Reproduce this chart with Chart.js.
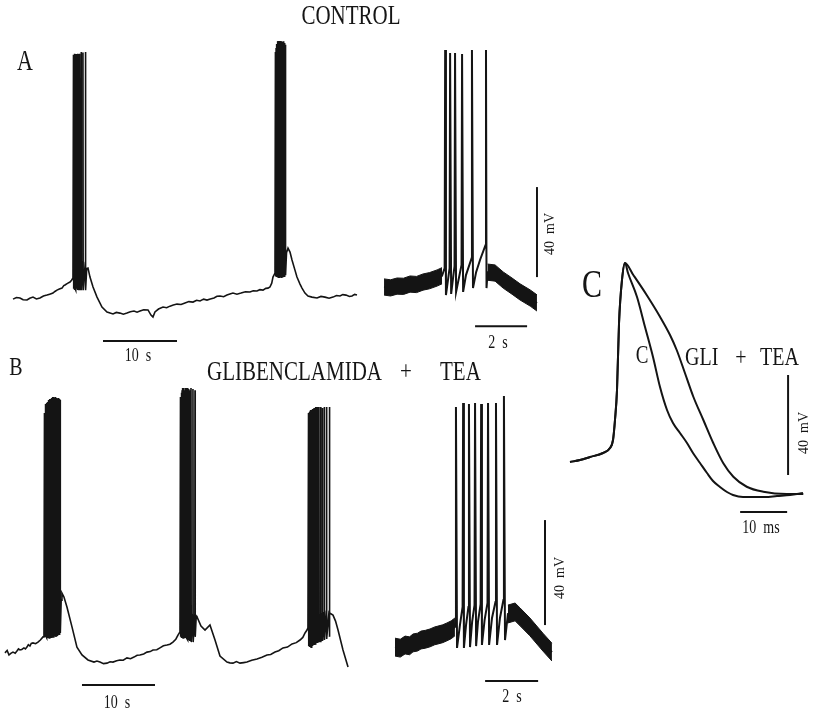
<!DOCTYPE html>
<html>
<head>
<meta charset="utf-8">
<script src="https://cdn.jsdelivr.net/npm/chart.js@4.4.1/dist/chart.umd.min.js"></script>
<style>
  body { margin: 0; background: #fff; }
  #fig { position: relative; width: 819px; height: 715px; overflow: hidden;
         font-family: "Liberation Serif", "Times New Roman", serif; color: #151515; }
  #fig canvas { position: absolute; }
  .lbl { position: absolute; white-space: pre; line-height: 1; transform: translate(-50%, -50%) scaleY(1.3); }
  .lft { position: absolute; white-space: pre; line-height: 1; transform: translate(0, -50%) scaleY(1.3); }
  .rot { position: absolute; white-space: pre; line-height: 1; transform: translate(-50%, -50%) rotate(-90deg); }
</style>
</head>
<body>
<div id="fig">
  <canvas id="aSlow" width="370" height="320" style="left:0;top:30px"></canvas>
  <canvas id="aFast" width="200" height="320" style="left:370px;top:30px"></canvas>
  <canvas id="bSlow" width="370" height="330" style="left:0;top:370px"></canvas>
  <canvas id="bFast" width="200" height="330" style="left:380px;top:370px"></canvas>
  <canvas id="cAp" width="259" height="300" style="left:560px;top:240px"></canvas>

  <div class="lbl" style="left:351px;top:16px;font-size:21px">CONTROL</div>
  <div class="lbl" style="left:25px;top:61px;font-size:22px">A</div>
  <div class="lbl" style="left:16px;top:366px;font-size:20px">B</div>
  <div class="lft" style="left:207px;top:372px;font-size:21px">GLIBENCLAMIDA</div>
  <div class="lbl" style="left:406px;top:372px;font-size:21px">+</div>
  <div class="lft" style="left:440px;top:372px;font-size:21px">TEA</div>

  <div class="lbl" style="left:138px;top:356px;font-size:14px">10  s</div>
  <div class="lbl" style="left:498px;top:343px;font-size:14px">2  s</div>
  <div class="rot" style="left:550px;top:234px;font-size:14px">40  mV</div>
  <div class="lbl" style="left:117px;top:703px;font-size:14px">10  s</div>
  <div class="lbl" style="left:512px;top:697px;font-size:14px">2  s</div>
  <div class="rot" style="left:560px;top:578px;font-size:14px">40  mV</div>

  <div class="lbl" style="left:592px;top:284px;font-size:30px">C</div>
  <div class="lbl" style="left:642px;top:355px;font-size:19px">C</div>
  <div class="lft" style="left:685px;top:356px;font-size:20px">GLI</div>
  <div class="lbl" style="left:741px;top:356px;font-size:20px">+</div>
  <div class="lft" style="left:760px;top:356px;font-size:20px">TEA</div>
  <div class="rot" style="left:804px;top:433px;font-size:14px">40  mV</div>
  <div class="lbl" style="left:761px;top:528px;font-size:14px">10  ms</div>
</div>

<script>
// ---- A: control, slow sweep (s, mV) ----
const aSlowBase = [
  [0.14,-64.6],[0.6,-63.9],[1.08,-64.1],[1.5,-64.9],[2.03,-65],[2.4,-64.2],[2.84,-63.7],[3.3,-64.5],
  [3.78,-64.1],[4.25,-63.2],[4.73,-62.8],[5.1,-62.4],[5.54,-61.9],[5.8,-61.2],[6.08,-60.6],[6.4,-60.1],
  [6.76,-59.7],[7.0,-58.6],[7.16,-58.3],[7.5,-57.6],[7.84,-57],[8.05,-56.2],[8.24,-55.2],
  [8.34,-60],[8.39,-50],[8.44,-60.5],[8.49,-50],[8.54,-60],[8.59,-49.5],[8.64,-60.6],[8.68,-49.5],
  [8.73,-60],[8.78,-49],[8.83,-60.5],[8.87,-49],[8.92,-60],[8.97,-48.5],[9.02,-60.6],[9.06,-48.5],
  [9.11,-60],[9.17,-48],[9.22,-60.6],[9.33,-48],[9.38,-60.6],[9.57,-48],[9.62,-60.6],[9.91,-48],
  [9.96,-60.6],[10.1,-51],
  [10.27,-50.8],[10.54,-54.8],[10.95,-59.2],[11.49,-63.7],[12.16,-68.1],[12.84,-70.3],[13.65,-71.2],
  [14.1,-70.5],[14.59,-70.8],[15.05,-71.3],[15.54,-70.8],[16.0,-70.2],[16.49,-69.9],[16.9,-70.4],
  [17.3,-69.9],[17.8,-69.3],[18.38,-69.4],[18.78,-71.7],[19.05,-72.6],[19.32,-70.3],[19.8,-69],
  [20.41,-68.1],[20.9,-68.4],[21.35,-67.7],[21.8,-67.2],[22.3,-66.8],[22.85,-67],[23.38,-66.3],
  [23.9,-65.7],[24.46,-65.9],[24.95,-65.1],[25.41,-65.4],[25.9,-64.6],[26.35,-65],[26.8,-64.5],
  [27.3,-64.1],[27.7,-63.3],[28.11,-63.2],[28.6,-63.5],[29.05,-62.8],[29.45,-62.3],[29.86,-61.9],
  [30.4,-62.4],[30.95,-61.9],[31.55,-61.3],[32.16,-61.4],[32.6,-60.9],[33.1,-61],[33.5,-60.4],
  [33.92,-60.6],[34.3,-59.8],[34.6,-59.7],[34.86,-59.2],[35.1,-57.5],[35.27,-54.8],[35.54,-53],
  [35.63,-54.5],[35.67,-45],[35.72,-54.8],[35.76,-44.5],[35.81,-54.8],[35.85,-44.5],[35.9,-55],
  [35.94,-44],[35.99,-55],[36.03,-44],[36.08,-55.2],[36.12,-43.5],[36.17,-55.2],[36.21,-43.5],
  [36.26,-55],[36.3,-43.5],[36.35,-55],[36.39,-43],[36.44,-55.2],[36.48,-43],[36.53,-55],[36.57,-43],
  [36.62,-55],[36.66,-42.5],[36.71,-54.8],[36.75,-42.5],[36.8,-54.8],[36.84,-42.5],[36.89,-54.5],
  [36.93,-42.5],[36.98,-54],[37.1,-44],
  [37.3,-41.9],[37.57,-43.7],[37.84,-47.2],[38.24,-51.7],[38.51,-54.8],[38.92,-57.9],[39.19,-59.7],
  [39.59,-61.9],[40,-63.2],[40.54,-63.7],[41.22,-64.1],[41.75,-63.4],[42.3,-63.7],[42.85,-64.2],
  [43.38,-63.7],[43.85,-63],[44.32,-63.2],[44.7,-62.6],[45.14,-62.8],[45.6,-63.4],[45.95,-63.2],
  [46.3,-62.5],[46.62,-62.8]
];
const aSlowSpikeT = [8.31,8.41,8.51,8.61,8.70,8.80,8.89,8.99,9.08,9.19,9.35,9.59,9.93,
  35.6,35.69,35.78,35.87,35.96,36.05,36.14,36.23,36.32,36.41,36.5,36.59,36.68,36.77,36.86,36.95];
const aSlowSpikeV = [44,44.3,44.5,44.3,44.1,44.3,44.5,44.3,44.2,44.5,45.2,45,45.2,
  45.2,47,48.8,50,50.1,49.8,50,50.1,49.6,50,49.4,49.8,50,49.2,48.8,48.4];

// ---- A: control, fast sweep ----
const aFastRest = [[0,-59.2],[0.25,-59.6],[0.5,-58.8],[0.75,-58.9],[1.0,-57.9],[1.25,-58.1],
  [1.5,-57],[1.75,-56.4],[2.04,-55.2],[2.23,-54.2]];
const aFastBurst = [[2.33,-50.8],[2.38,-62.8],[2.52,-50.8],[2.58,-62.3],[2.71,-49.9],[2.77,-61.4],
  [2.98,-49.4],[3.04,-61.4],[3.15,-53.9],[3.37,-46.3],[3.42,-59.7],[3.54,-52.6],[3.69,-47.2],
  [3.9,-40.6],[3.94,-59.7]];
const aFastAfter = [[3.98,-52.6],[4.27,-53],[4.58,-56.1],[4.92,-58.8],[5.23,-61.4],[5.62,-64.1],[5.88,-66.3]];
const aFastSpikeT = [2.35,2.54,2.73,3.0,3.38,3.92];
const aFastSpikeV = [46.1,44.8,44.8,44.3,46.1,46.1];
const aFastNoise = 3.6;   // half-width of the baseline noise band, mV

// ---- B: glibenclamida + TEA, slow sweep ----
const bSlowBase = [
  [0,-66.1],[0.3,-65.2],[0.55,-66.9],[0.8,-66.3],[1.1,-65.8],[1.4,-66.2],[1.64,-65.4],[1.85,-64.6],
  [2.05,-65],[2.3,-64.8],[2.6,-64.2],[2.8,-64.6],[3.01,-63.9],[3.2,-63],[3.42,-63.5],[3.6,-62.5],
  [3.84,-62.3],[4.2,-62.6],[4.52,-62],[4.85,-61.2],[5.21,-60],[5.34,-59.7],
  [5.44,-59.7],[5.49,-51],[5.54,-60],[5.59,-50.5],[5.64,-60],[5.69,-50.5],[5.74,-60.4],[5.8,-50],
  [5.85,-60.4],[5.9,-50],[5.95,-60.4],[6.01,-49.5],[6.06,-60.4],[6.11,-49.5],[6.16,-60.4],[6.22,-49],
  [6.27,-60.4],[6.33,-49],[6.38,-60.4],[6.44,-48.5],[6.49,-60],[6.55,-48.5],[6.6,-60],[6.66,-48],
  [6.71,-60],[6.77,-48],[6.82,-60],[6.89,-47.5],[6.94,-60],[7.01,-47.5],[7.06,-60],[7.13,-47],
  [7.18,-59.7],[7.26,-47],[7.31,-59.3],[7.39,-46.5],[7.44,-59.3],[7.53,-46],[7.58,-58.5],[7.7,-46],
  [7.81,-43.3],[8.08,-44.8],[8.49,-48.6],[9.18,-56.2],[9.86,-63.9],[10.55,-66.9],[11.37,-68.8],
  [12.19,-69.6],[12.6,-69.2],[13.01,-69.6],[13.5,-70.2],[13.97,-70],[14.4,-69.5],[14.79,-69.6],
  [15.3,-69.1],[15.75,-68.8],[16.2,-68.9],[16.71,-68],[17.2,-68.3],[17.67,-67.7],[18.1,-67],
  [18.49,-66.9],[19,-66.5],[19.45,-65.8],[19.9,-65.6],[20.27,-65],[20.8,-64.9],[21.23,-64.2],
  [21.7,-63.4],[22.19,-63.1],[22.6,-62.8],[23.01,-62],[23.4,-60.9],[23.7,-59.3],[23.97,-58.1],
  [24.07,-60],[24.13,-53],[24.18,-60.4],[24.24,-52.5],[24.29,-60.4],[24.35,-52.4],[24.4,-60.4],
  [24.46,-52],[24.51,-60.4],[24.57,-52],[24.62,-60.4],[24.68,-51.5],[24.73,-60.4],[24.79,-51.5],
  [24.84,-60.8],[24.9,-51],[24.95,-60.8],[25.01,-51],[25.06,-61.2],[25.13,-51],[25.18,-61.2],
  [25.27,-51.5],[25.32,-61.6],[25.46,-51.5],[25.51,-62],[25.73,-51.5],[25.78,-62],[26.01,-51],
  [26.06,-60],[26.2,-52],
  [26.3,-52.4],[26.85,-55.9],[27.4,-57.4],[28.08,-55.5],[28.77,-61.2],[29.45,-67.3],[30.41,-69.6],
  [30.8,-69.9],[31.23,-70],[31.7,-69.4],[32.19,-70],[32.7,-69.8],[33.15,-69.6],[33.8,-68.9],
  [34.52,-68.4],[35.2,-67.8],[35.89,-66.9],[36.4,-66.7],[36.99,-65.8],[37.5,-65.3],[38.08,-64.2],
  [38.7,-63.9],[39.32,-62.7],[39.9,-62.2],[40.41,-61.2],[40.8,-60.2],[41.1,-58.5],[41.37,-57.4],
  [41.5,-56.5],
  [41.61,-63.5],[41.66,-55],[41.71,-63.9],[41.77,-55],[41.82,-63.9],[41.88,-54.5],[41.93,-63.9],
  [41.99,-54.5],[42.04,-63.5],[42.1,-54],[42.15,-63.5],[42.21,-54],[42.26,-63.1],[42.32,-53.5],
  [42.37,-63.1],[42.43,-53.5],[42.48,-62.7],[42.54,-53],[42.59,-62.7],[42.66,-53],[42.71,-62.3],
  [42.8,-52.5],[42.85,-62.3],[42.99,-52],[43.04,-62],[43.23,-51.5],[43.28,-62],[43.46,-51],
  [43.51,-61.6],[43.72,-50.5],[43.77,-61.2],[44.03,-50],[44.08,-60.8],[44.4,-50],[44.45,-60],
  [44.52,-50.9],[44.93,-51.7],[45.28,-54],[45.62,-57.4],[46.3,-65],[46.99,-71.5]
];
const bSlowSpikeT = [
  5.41,5.51,5.61,5.71,5.82,5.92,6.03,6.13,6.24,6.35,6.46,6.57,6.68,6.79,6.91,7.03,7.15,7.28,7.41,7.55,
  24.04,24.15,24.26,24.37,24.48,24.59,24.7,24.81,24.92,25.03,25.15,25.29,25.48,25.75,26.03,
  41.58,41.68,41.79,41.9,42.01,42.12,42.23,42.34,42.45,42.56,42.68,42.82,43.01,43.25,43.48,43.74,44.05,44.42];
const bSlowSpikeV = [
  25.3,27.6,28.7,29.1,29.5,30.2,30.2,30.6,30.6,31,31,31.4,31.4,31,31.4,31,30.6,31,30.6,30.2,
  31.4,33,34,34.8,34.8,34,34.8,34.8,34,34.8,34.4,34,34.8,34.4,34,
  25.3,25.7,26,26.4,26.4,26.8,26.8,27.2,27.2,27.6,27.6,27.6,27.6,27.6,27.2,27.6,27.6,27.6];

// ---- B: glibenclamida + TEA, fast sweep ----
const bFastRest = [[0,-63.9],[0.2,-64.3],[0.38,-63.1],[0.55,-63.4],[0.68,-62.3],[0.85,-62],[0.98,-61.2],
  [1.15,-60.9],[1.32,-60.4],[1.5,-59.6],[1.62,-59.3],[1.8,-58.8],[1.96,-58.1],[2.12,-57.3],[2.26,-56.2]];
const bFastBurst = [[2.28,-53.6],[2.34,-64.2],[2.45,-55.5],[2.55,-48.6],[2.6,-64.2],[2.68,-55.5],
  [2.77,-48.6],[2.83,-63.9],[2.91,-54.3],[3.0,-47.9],[3.06,-63.5],[3.13,-54.3],[3.23,-47.5],[3.28,-63.1],
  [3.38,-53.6],[3.49,-47.1],[3.55,-63.1],[3.66,-52.8],[3.79,-46.7],[3.85,-63.1],[3.96,-52.8],[4.09,-46],
  [4.15,-61.2]];
const bFastAfter = [[4.26,-51.3],[4.53,-50.5],[4.72,-52.4],[5.09,-56.2],[5.58,-62],[5.92,-65.8]];
const bFastSpikeT = [2.3,2.57,2.79,3.02,3.25,3.51,3.81,4.11];
const bFastSpikeV = [27.6,29.1,28.7,29.1,28.7,29.1,29.1,31.8];
const bFastNoise = 3.4;

// ---- C: single action potentials (ms, mV) ----
const cUpstroke = [[0,-70],[2.13,-69.2],[4.26,-68],[7.02,-66.4],[8.51,-64.4],[9.15,-61.2],[9.57,-53.2],
  [10,-41.2],[10.43,-14.4],[11.06,2.8],[11.7,9.6]];
const cControl = [[12.34,5.6],[14.26,-4],[15.96,-16],[17.66,-28],[19.15,-40],[20.64,-49.2],[21.91,-54.4],
  [23.4,-58.4],[24.89,-62.4],[26.17,-66.4],[27.66,-70.4],[29.15,-74.4],[30.43,-77.6],[31.91,-80],
  [33.4,-82],[34.68,-83.2],[36.81,-84],[38.94,-84],[41.49,-84],[44.04,-83.6],[46.81,-83.2],[49.57,-82.4]];
const cGliTea = [[13.47,4.8],[16.31,-3.2],[19.15,-11.9],[21.28,-19.2],[22.7,-25.2],[24.47,-34.5],
  [26.24,-43.9],[28.37,-53.2],[30.5,-62.5],[32.62,-70.5],[34.75,-75.9],[37.6,-79.9],[41.13,-81.9],
  [46.1,-82.8],[49.64,-82.8]];

// calibration bar lengths
const SLOW_BAR_S = 10, FAST_BAR_S = 2, AP_BAR_MS = 10, BAR_MV = 40;

const INK = '#141414';
const xy = arr => arr.map(([x, y]) => ({ x, y }));

// baseline + spike peaks, merged in time order
function withSpikes(base, spikeT, spikeV) {
  const pts = xy(base);
  spikeT.forEach((t, i) => pts.push({ x: t, y: spikeV[i] }));
  return pts.sort((a, b) => a.x - b.x);
}

function line(data, width, extra) {
  return Object.assign({ data, showLine: true, borderColor: INK, borderWidth: width,
    pointRadius: 0, fill: false, clip: false, tension: 0 }, extra || {});
}

// noisy stretch of the fast sweeps: filled band around the mean trace
function band(center, half) {
  return [
    line(center.map(([x, y]) => ({ x, y: y + half })), 1, { fill: '+1', backgroundColor: INK }),
    line(center.map(([x, y]) => ({ x, y: y - half })), 1)
  ];
}

const hBar = (x0, len, y) => line([{ x: x0, y }, { x: x0 + len, y }], 2);
const vBar = (x, y0, len) => line([{ x, y: y0 }, { x, y: y0 + len }], 2);

function panel(id, xr, yr, datasets) {
  new Chart(document.getElementById(id), {
    type: 'scatter',
    data: { datasets },
    options: {
      responsive: false, animation: false, devicePixelRatio: 1,
      layout: { padding: 0 },
      plugins: { legend: { display: false }, tooltip: { enabled: false } },
      scales: {
        x: { type: 'linear', min: xr[0], max: xr[1], display: false },
        y: { type: 'linear', min: yr[0], max: yr[1], display: false }
      }
    }
  });
}

panel('aSlow', [-1.62, 48.38], [-87.2, 55], [
  line(withSpikes(aSlowBase, aSlowSpikeT, aSlowSpikeV), 1.6),
  hBar(12.3, SLOW_BAR_S, -83.2)
]);

panel('aFast', [-0.54, 7.15], [-87.2, 55], [
  ...band(aFastRest, aFastNoise),
  ...band(aFastAfter, aFastNoise),
  line(withSpikes([...aFastRest, ...aFastBurst, ...aFastAfter], aFastSpikeT, aFastSpikeV), 2),
  hBar(3.5, FAST_BAR_S, -76.6),
  vBar(5.88, -54.8, BAR_MV)
]);

panel('bSlow', [-0.68, 50.0], [-84.05, 41.67], [
  line(withSpikes(bSlowBase, bSlowSpikeT, bSlowSpikeV), 1.6),
  hBar(10.55, SLOW_BAR_S, -78.3)
]);

panel('bFast', [-0.566, 6.98], [-84.05, 41.67], [
  ...band(bFastRest, bFastNoise),
  ...band(bFastAfter, bFastNoise),
  line(withSpikes([...bFastRest, ...bFastBurst, ...bFastAfter], bFastSpikeT, bFastSpikeV), 2),
  hBar(3.4, FAST_BAR_S, -76.8),
  vBar(5.66, -55.5, BAR_MV)
]);

panel('cAp', [-2.13, 52.98], [-101.2, 18.8], [
  line(xy([...cUpstroke, ...cControl]), 2, { cubicInterpolationMode: 'monotone' }),
  line(xy([...cUpstroke, ...cGliTea]), 2, { cubicInterpolationMode: 'monotone' }),
  hBar(36.2, AP_BAR_MS, -90),
  vBar(46.4, -75.2, BAR_MV)
]);
</script>
</body>
</html>
